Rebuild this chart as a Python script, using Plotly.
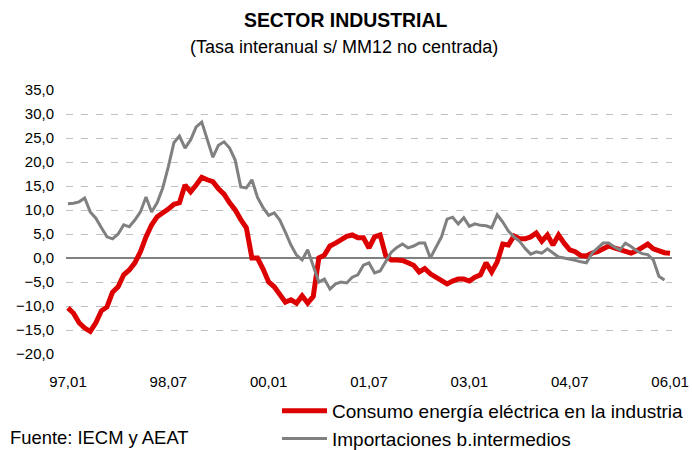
import plotly.graph_objects as go

# meses 97.01 .. 06.01
meses = [f"{a % 100:02d},{m:02d}" for a in range(1997, 2007) for m in range(1, 13)][:109]

consumo_electrico = [
    -10.4, -11.5, -13.5, -14.6, -15.3, -13.5, -11.0, -10.2, -7.1, -6.0,
    -3.5, -2.5, -1.0, 1.3, 4.4, 6.9, 8.6, 9.3, 10.2, 11.2,
    11.5, 15.2, 13.8, 15.2, 16.8, 16.3, 15.9, 14.4, 13.3, 11.5,
    10.0, 8.0, 6.3, 0.0, 0.0, -2.3, -5.0, -6.0, -7.7, -9.2,
    -8.7, -9.4, -7.9, -9.4, -8.0, 0.0, 0.6, 2.5, 3.1, 3.8,
    4.5, 4.8, 4.2, 4.2, 2.1, 4.4, 4.8, 0.5, -0.4, -0.4,
    -0.5, -1.0, -1.5, -2.9, -2.2, -3.3, -4.0, -4.8, -5.4, -4.8,
    -4.4, -4.4, -4.8, -4.0, -3.5, -1.0, -2.9, -0.8, 2.9, 2.7,
    4.6, 4.0, 4.0, 4.4, 5.2, 3.5, 4.8, 2.7, 4.8, 3.1,
    1.7, 1.3, 0.5, 0.4, 1.0, 1.3, 2.0, 2.5, 2.1, 1.7,
    1.4, 1.0, 1.5, 2.2, 2.9, 1.9, 1.4, 1.1, 1.0,
]

importaciones = [
    11.3, 11.4, 11.7, 12.5, 9.6, 8.3, 6.3, 4.4, 4.0, 5.0,
    6.9, 6.5, 7.9, 9.6, 12.7, 9.6, 11.5, 14.6, 19.0, 24.0,
    25.4, 22.9, 24.6, 27.3, 28.3, 24.6, 21.0, 23.5, 24.2, 22.9,
    20.4, 14.8, 14.6, 16.3, 12.6, 10.5, 8.9, 9.4, 7.9, 5.4,
    2.7, 0.6, -0.4, 1.7, -1.9, -5.0, -4.4, -6.5, -5.4, -5.0,
    -5.2, -4.0, -3.5, -1.5, -1.0, -3.1, -2.7, -0.6, 1.2, 2.2,
    2.9, 2.1, 2.5, 3.1, 3.1, 0.0, 2.1, 4.4, 8.1, 8.5,
    7.1, 8.4, 6.6, 7.1, 6.8, 6.7, 6.3, 9.0, 7.5, 5.6,
    4.4, 3.5, 2.0, 0.8, 1.3, 1.0, 1.9, 1.0, 0.2, 0.0,
    -0.2, -0.5, -0.8, -1.0, 1.0, 2.1, 3.1, 3.1, 2.3, 1.7,
    3.1, 2.4, 1.5, 0.9, 0.7, -0.4, -3.8, -4.6, None,
]

ticks_x = ["97,01", "98,07", "00,01", "01,07", "03,01", "04,07", "06,01"]

fuente = "Liberation Sans, Arial, sans-serif"

fig = go.Figure()
fig.add_trace(go.Scatter(x=meses, y=consumo_electrico, mode="lines",
                         name="Consumo energía eléctrica en la industria",
                         line=dict(color="#dd0000", width=5)))
fig.add_trace(go.Scatter(x=meses, y=importaciones, mode="lines",
                         name="Importaciones b.intermedios",
                         line=dict(color="#808080", width=3)))

fig.add_annotation(text="<b>SECTOR INDUSTRIAL</b>", xref="paper", yref="paper",
                   x=(345 - 66) / 606, y=(354 - 20) / 264, showarrow=False,
                   font=dict(size=19.4, color="#000"), yanchor="middle")
fig.add_annotation(text="(Tasa interanual s/ MM12 no centrada)", xref="paper", yref="paper",
                   x=(344 - 66) / 606, y=(354 - 47) / 264, showarrow=False,
                   font=dict(size=18, color="#000"), yanchor="middle")
fig.add_annotation(text="Fuente: IECM y AEAT", xref="paper", yref="paper",
                   x=(8 - 66) / 606, y=(354 - 437) / 264, showarrow=False,
                   xanchor="left", yanchor="middle",
                   font=dict(size=18.4, color="#000"))

fig.update_layout(
    width=692, height=450,
    paper_bgcolor="white", plot_bgcolor="white",
    margin=dict(l=66, r=20, t=90, b=96, autoexpand=False),
    font=dict(family=fuente, color="#000"),
    separators=",.",
    xaxis=dict(type="category", range=[-0.35, 108.35], tickvals=ticks_x, ticktext=ticks_x,
               showgrid=False, zeroline=False, showline=False,
               ticks="outside", ticklen=14, tickcolor="rgba(0,0,0,0)",
               tickfont=dict(size=15)),
    yaxis=dict(range=[-20, 35], dtick=5, tickformat=".1f",
               showgrid=True, gridcolor="#c0c0c0", griddash="7px,8px", gridwidth=1,
               zeroline=True, zerolinecolor="#808080", zerolinewidth=2,
               showline=False, ticks="outside", ticklen=8, tickcolor="rgba(0,0,0,0)",
               tickfont=dict(size=15)),
    legend=dict(x=(277 - 66) / 606, y=(354 - 392) / 264,
                xanchor="left", yanchor="top", bgcolor="rgba(0,0,0,0)",
                font=dict(size=19, color="#000"), tracegroupgap=0, itemwidth=45),
    showlegend=True,
)

fig.write_html("out.html", config={"displayModeBar": False},
               post_script="document.body.style.margin='0';")
